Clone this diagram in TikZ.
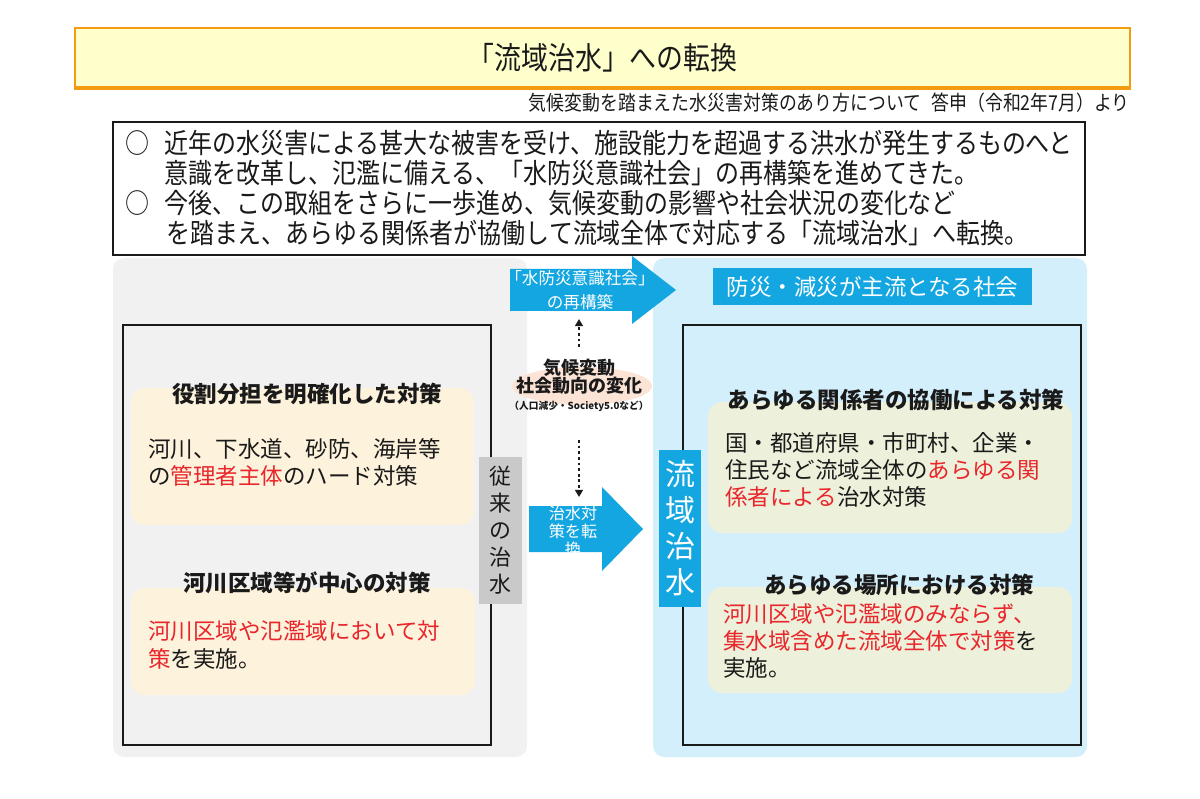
\documentclass[tikz,border=0pt]{standalone}
\usepackage{fontspec}
\setmainfont{Noto Sans CJK JP}
\newfontfamily\narrowjp[FakeStretch=0.87]{Noto Sans CJK JP}
\usetikzlibrary{positioning,arrows.meta,fit,shapes.geometric}
\definecolor{titlefill}{HTML}{FFFFCC}
\definecolor{titleline}{HTML}{F39C12}
\definecolor{flowblue}{HTML}{14A6E0}
\definecolor{skyband}{HTML}{D3EFFB}
\definecolor{greyband}{HTML}{F1F1F1}
\definecolor{greylabel}{HTML}{C9C9C9}
\definecolor{creamcard}{HTML}{FDF2DC}
\definecolor{palecard}{HTML}{EDF0DA}
\definecolor{alertred}{HTML}{E8262B}
\definecolor{peach}{HTML}{FBE4D6}
\definecolor{inkcol}{HTML}{1A1A1A}
\newcommand{\redtxt}[1]{\textcolor{alertred}{#1}}

\begin{document}
\begin{tikzpicture}[
  x=0.025cm, y=-0.025cm,
  font=\fontsize{16pt}{19.3pt}\selectfont, text=inkcol,
  band/.style={draw=none, rounded corners=8pt, inner sep=0pt},
  edgebox/.style={draw=inkcol, line width=1pt, inner sep=0pt},
  card/.style={fill=#1, draw=none, rounded corners=10pt, inner sep=0pt},
  cardhead/.style={font=\fontsize{16pt}{19pt}\selectfont\bfseries, inner sep=0pt},
  cardtext/.style={align=left, anchor=west, inner sep=0pt},
  tag/.style={fill=#1, draw=none, inner sep=0pt},
  tagtext/.style={align=center, inner sep=0pt},
  block/.style={fill=flowblue, draw=none},
  dotarr/.style={draw=inkcol, line width=2pt, dash pattern=on 2pt off 2pt,
                 -{Triangle[length=5pt, width=5.5pt]}},
]
\useasboundingbox (0,0) rectangle (1200,799);

% ─── title bar ─────────────────────────────────────────────────────────────
\node[fill=titlefill, draw=titleline, line width=1pt, inner sep=0pt,
      fit={(75,28) (1130,87)}] (titlebar) {};
\draw[titleline, line width=3pt] (titlebar.south west) -- (titlebar.south east);
\node[font=\narrowjp\fontsize{22pt}{26pt}\selectfont] (title) at (titlebar.center)
  {「流域治水」への転換};
\node[anchor=east, inner sep=0pt, font=\narrowjp\fontsize{14.6pt}{17pt}\selectfont]
  (source) at (1130,103)
  {気候変動を踏まえた水災害対策のあり方について\hspace{0.5em}答申（令和2年7月）より};

% ─── summary ───────────────────────────────────────────────────────────────
\node[edgebox, fill=white, fit={(113,122) (1085,255)}] (summary) {};
\node[anchor=west, align=left, inner sep=0pt,
      font=\narrowjp\fontsize{19.6pt}{21.3pt}\selectfont] (summarytext) at (125,188)
  {\makebox[28pt][l]{○}近年の水災害による甚大な被害を受け、施設能力を超過する洪水が発生するものへと\\
   \hspace*{28pt}意識を改革し、氾濫に備える、「水防災意識社会」の再構築を進めてきた。\\
   \makebox[28pt][l]{○}今後、この取組をさらに一歩進め、気候変動の影響や社会状況の変化など\\
   \hspace*{29pt}を踏まえ、あらゆる関係者が協働して流域全体で対応する「流域治水」へ転換。};

% ─── panels ────────────────────────────────────────────────────────────────
\node[band, fill=greyband, fit={(113,258) (527,757)}] (oldpanel) {};
\node[band, fill=skyband, fit={(653,258) (1087,757)}] (newpanel) {};
\node[edgebox, fit={(123,325) (491,745)}] (oldframe) {};
\node[edgebox, line width=1.5pt, fit={(683,325) (1081,745)}] (newframe) {};

% ─── conventional flood control (left) ─────────────────────────────────────
\node[card=creamcard, fit={(131,388) (474,525)}] (roleCard) {};
\node[cardhead] (roleHead) at (307,394) {役割分担を明確化した対策};
\node[cardtext] (roleText) at (148,462)
  {河川、下水道、砂防、海岸等\\の\redtxt{管理者主体}のハード対策};

\node[card=creamcard, fit={(131,588) (475,695)}] (riverCard) {};
\node[cardhead] (riverHead) at (307,583) {河川区域等が中心の対策};
\node[cardtext] (riverText) at (148,645)
  {\redtxt{河川区域や氾濫域において対}\\\redtxt{策}を実施。};

\node[tag=greylabel, fit={(479,457) (522,604)}] (oldLabel) {};
\node[tagtext, font=\fontsize{15.6pt}{19.2pt}\selectfont] (oldLabelText)
  at (oldLabel.center) {従\\来\\の\\治\\水};

% ─── basin-wide flood control (right) ──────────────────────────────────────
\node[tag=flowblue, fit={(713,268) (1032,305)}] (societyLabel) {};
\node[tagtext, text=white] (societyText) at (societyLabel.center)
  {防災・減災が主流となる社会};

\node[card=palecard, fit={(708,402) (1072,533)}] (allCard) {};
\node[cardhead] (allHead) at (896,400) {あらゆる関係者の協働による対策};
\node[cardtext] (allText) at (725,470)
  {国・都道府県・市町村、企業・\\住民など流域全体の\redtxt{あらゆる関}\\\redtxt{係者による}治水対策};

\node[card=palecard, fit={(708,587) (1072,693)}] (everyCard) {};
\node[cardhead] (everyHead) at (899,585) {あらゆる場所における対策};
\node[cardtext] (everyText) at (723,641)
  {\redtxt{河川区域や氾濫域のみならず、}\\\redtxt{集水域含めた流域全体で対策}を\\実施。};

\node[tag=flowblue, fit={(659,450) (701,607)}] (basinLabel) {};
\node[tagtext, text=white, font=\fontsize{21.3pt}{25.6pt}\selectfont] (basinLabelText)
  at (basinLabel.center) {流\\域\\治\\水};

% ─── shift arrows (middle) ─────────────────────────────────────────────────
\fill[block] (510,269) -- (632,269) -- (632,256) -- (676,290) -- (632,324)
  -- (632,311) -- (510,311) -- cycle;
\node[text=white, align=center, inner sep=0pt, font=\fontsize{11.8pt}{17pt}\selectfont]
  (rebuildText) at (580,290) {「水防災意識社会」\\の再構築};

\fill[block] (529,506) -- (602,506) -- (602,487) -- (643,529) -- (602,571)
  -- (602,552) -- (529,552) -- cycle;
\node[text=white, align=center, inner sep=0pt, font=\fontsize{11.5pt}{12.8pt}\selectfont]
  (turnText) at (573,531) {治水対\\策を転\\換};

\node[ellipse, fill=peach, minimum width=3.5cm, minimum height=0.95cm, inner sep=0pt]
  (climateGlow) at (582,386) {};
\node[align=center, inner sep=0pt, font=\fontsize{12.8pt}{12.8pt}\selectfont\bfseries]
  (climate) at (579,377) {気候変動\\社会動向の変化};
\node[below=0.15cm of climate, inner sep=0pt, font=\fontsize{6.9pt}{8pt}\selectfont\bfseries]
  (climateNote) {（人口減少・Society5.0など）};

\coordinate (upTip) at (579,319);
\coordinate (turnTip) at (579,497);
\draw[dotarr, shorten <=0.3cm] (climate.north) -- (upTip);
\draw[dotarr, shorten <=0.7cm] (climateNote.south) -- (turnTip);

\end{tikzpicture}
\end{document}
